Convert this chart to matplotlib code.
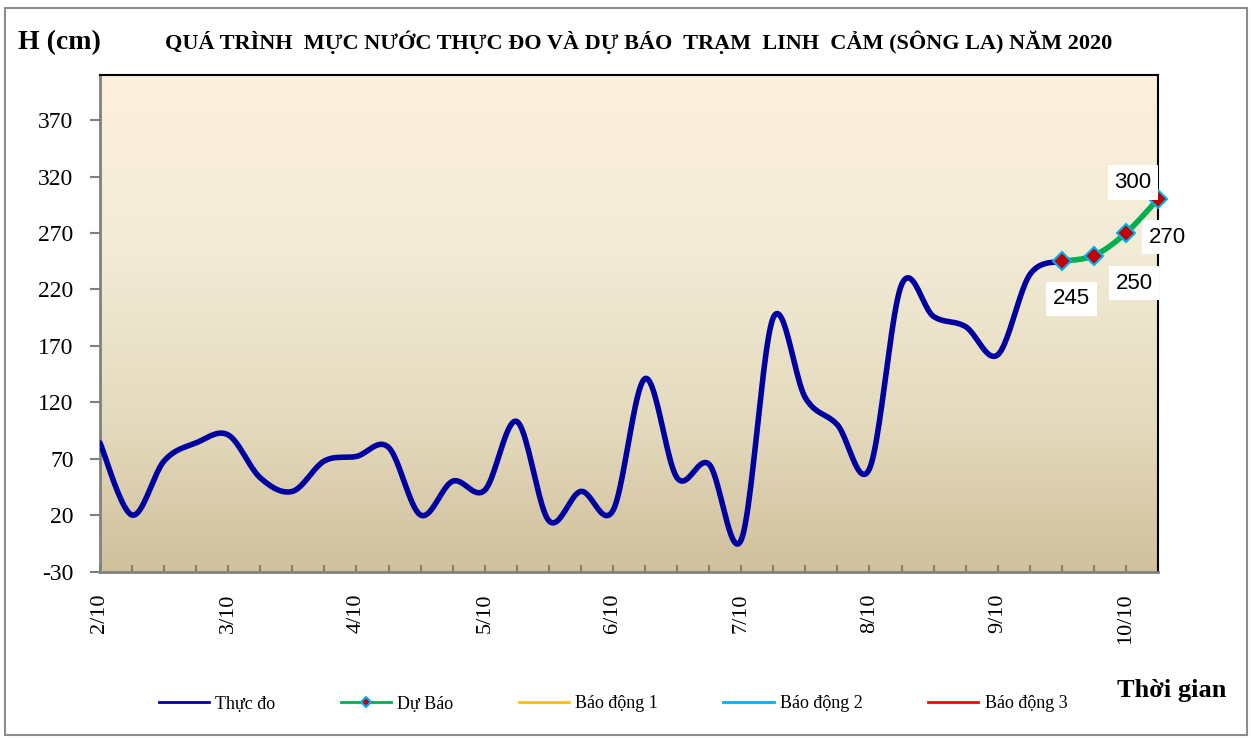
import numpy as np
import matplotlib.pyplot as plt
from matplotlib.lines import Line2D
from matplotlib.colors import LinearSegmentedColormap
from matplotlib.patches import Rectangle

# data (4 readings per day, 2/10 -> 10/10)
days = ["2/10", "3/10", "4/10", "5/10", "6/10", "7/10", "8/10", "9/10", "10/10"]
thuc_do = [84, 20, 68, 84, 91, 53, 41, 68, 72, 80,
           20, 50, 42, 103, 15, 41, 24, 141, 53, 65,
           -2, 195, 124, 100, 61, 224, 196, 187, 162, 233, 245]
du_bao = [245, 250, 270, 300]
du_bao_start = 30
legend_names = ["Thực đo", "Dự Báo", "Báo động 1", "Báo động 2", "Báo động 3"]

SERIF = "Liberation Serif"
SANS = "Liberation Sans"
plt.rcParams["axes.unicode_minus"] = False


def smooth(xs, ys, n=24):
    # excel-like smoothed line (bezier through each point)
    p = np.column_stack([np.asarray(xs, float), np.asarray(ys, float)])
    pad = np.vstack([p[0], p, p[-1]])
    t = np.linspace(0, 1, n)[:, None]
    segs = []
    for i in range(len(p) - 1):
        p0, p3 = pad[i + 1], pad[i + 2]
        c1 = p0 + (pad[i + 2] - pad[i]) / 6
        c2 = p3 - (pad[i + 3] - pad[i + 1]) / 6
        segs.append((1 - t) ** 3 * p0 + 3 * (1 - t) ** 2 * t * c1
                    + 3 * (1 - t) * t ** 2 * c2 + t ** 3 * p3)
    return np.vstack(segs)


xmax = (len(days) - 1) * 4 + 1  # one slot after 10/10
tick_labels = [days[i // 4] if i % 4 == 0 else "" for i in range(xmax + 1)]

fig = plt.figure(figsize=(12.51, 7.38), dpi=100)
ax = fig.add_axes([100 / 1251, 1 - 571.5 / 738, 1058 / 1251, 496.5 / 738])

ymin, ymax = -30, 410
ax.set_xlim(0, xmax)
ax.set_ylim(ymin, ymax)

# background gradient
cmap = LinearSegmentedColormap.from_list(
    "bg", [(0, "#d0c09c"), (0.3, "#e4dabd"), (0.65, "#f2ebd6"), (1, "#fdf0dc")])
grad = np.linspace(0, 1, 256)[:, None]
ax.imshow(grad, extent=[0, xmax, ymin, ymax], origin="lower", aspect="auto",
          cmap=cmap, zorder=0)

# observed
xs = np.arange(len(thuc_do))
s = smooth(xs, thuc_do)
ax.plot(s[:, 0], s[:, 1], color="#0000a0", lw=4, solid_capstyle="round",
        zorder=3)

# forecast
xf = np.arange(du_bao_start, du_bao_start + len(du_bao))
sf = smooth(xf, du_bao)
ax.plot(sf[:, 0], sf[:, 1], color="#00b050", lw=4, zorder=4, clip_on=False)
ax.plot(xf, du_bao, ls="none", marker="D", ms=9, mfc="#c00000", mec="#00b0f0",
        mew=1.5, zorder=5, clip_on=False)

offsets = [(7, -27), (29, -20), (30, -3), (-18, 12)]
for x, v, off in zip(xf, du_bao, offsets):
    ax.annotate(str(v), (x, v), xytext=off, textcoords="offset points",
                ha="center", va="center", fontsize=16, family=SANS,
                bbox=dict(boxstyle="square,pad=0.3", fc="white", ec="none"),
                zorder=6, annotation_clip=False)

# axes styling
ax.set_yticks(np.arange(-30, 371, 50))
ax.set_xticks(np.arange(0, xmax + 1))
ax.set_xticklabels(tick_labels, rotation=90, family=SERIF, fontsize=16)
for lab in ax.get_yticklabels():
    lab.set_family(SERIF)
    lab.set_fontsize(17)
ax.tick_params(axis="y", direction="out", length=7, width=1.5, color="#808080",
               pad=12)
ax.tick_params(axis="x", direction="in", length=5, width=1.5, color="#808080",
               pad=16)
for side in ["left", "bottom"]:
    ax.spines[side].set_color("#808080")
    ax.spines[side].set_linewidth(2)
for side in ["top", "right"]:
    ax.spines[side].set_color("black")
    ax.spines[side].set_linewidth(1.5)

# titles
fig.text(639 / 1251, 1 - 42 / 738,
         "QUÁ TRÌNH  MỰC NƯỚC THỰC ĐO VÀ DỰ BÁO  TRẠM  LINH  CẢM (SÔNG LA) NĂM 2020",
         ha="center", va="center", family=SERIF, weight="bold", fontsize=16)
fig.text(18 / 1251, 1 - 43 / 738, "H (cm)", ha="left", va="center",
         family=SERIF, weight="bold", fontsize=20)
fig.text(1226 / 1251, 1 - 691 / 738, "Thời gian", ha="right", va="center",
         family=SERIF, weight="bold", fontsize=19)

# legend
colors = ["#0000a0", "#00b050", "#ffc000", "#00b0f0", "#ff0000"]
handles = []
for name, c in zip(legend_names, colors):
    if name == "Dự Báo":
        handles.append(Line2D([], [], color=c, lw=2, marker="D", ms=5,
                              mfc="#c00000", mec="#00b0f0", mew=1.5))
    else:
        handles.append(Line2D([], [], color=c, lw=2))
fig.legend(handles, legend_names, loc="center", ncol=5, frameon=False,
           bbox_to_anchor=(613 / 1251, 1 - 704 / 738),
           prop={"family": SERIF, "size": 13},
           handlelength=2.8, handletextpad=0.35, columnspacing=3.6)

# outer chart border
fig.patches.append(Rectangle((5 / 1251, 3 / 738), 1242 / 1251, 727 / 738,
                             transform=fig.transFigure, fill=False,
                             ec="#8c8c8c", lw=1.5))

fig.savefig("out.png", dpi=100)
